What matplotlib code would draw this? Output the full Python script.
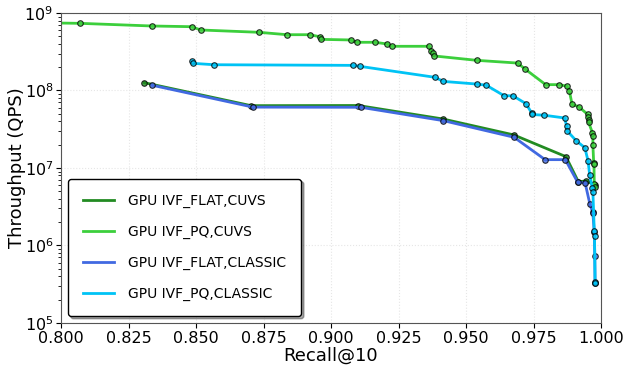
import numpy as np
import matplotlib
matplotlib.use("Agg")
import matplotlib.pyplot as plt

# IVF_FLAT, cuVS
flat_cuvs_recall = [0.8309, 0.8704, 0.9101, 0.9414, 0.9677, 0.9870, 0.9916, 0.9946, 0.9978]
flat_cuvs_qps = [1.26e8, 6.37e7, 6.4e7, 4.29e7, 2.67e7, 1.4e7, 6.65e6, 6.8e6, 6.0e6]

# IVF_PQ, cuVS
pq_cuvs_recall = [0.790, 0.8070, 0.8337, 0.8484, 0.8517, 0.8732, 0.8837, 0.8921, 0.8959, 0.8962,
                  0.9074, 0.9095, 0.9163, 0.9209, 0.9226, 0.9363, 0.9370, 0.9379, 0.9383,
                  0.9540, 0.9691, 0.9719, 0.9795, 0.9843, 0.9873, 0.9883, 0.9893, 0.9917,
                  0.9951, 0.9953, 0.9954, 0.9954, 0.9968, 0.9970, 0.9970, 0.9973, 0.9974,
                  0.9975, 0.9976]
pq_cuvs_qps = [7.5e8, 7.36e8, 6.8e8, 6.66e8, 6.04e8, 5.64e8, 5.25e8, 5.25e8, 4.94e8, 4.57e8,
               4.49e8, 4.19e8, 4.19e8, 3.98e8, 3.72e8, 3.72e8, 3.27e8, 3.02e8, 2.79e8,
               2.45e8, 2.26e8, 1.89e8, 1.19e8, 1.19e8, 1.14e8, 9.8e7, 6.6e7, 6.2e7,
               4.9e7, 4.5e7, 4.2e7, 3.9e7, 2.86e7, 2.6e7, 1.96e7, 1.15e7, 1.12e7,
               6.3e6, 5.7e6]

# IVF_FLAT, classic
flat_classic_recall = [0.8337, 0.8711, 0.9110, 0.9416, 0.9678, 0.9793, 0.9868, 0.9914,
                       0.9941, 0.9959, 0.9969, 0.9970, 0.9975, 0.9977, 0.9978]
flat_classic_qps = [1.17e8, 6.1e7, 6.07e7, 4.08e7, 2.49e7, 1.28e7, 1.28e7, 6.5e6,
                    6.46e6, 3.4e6, 2.69e6, 2.6e6, 1.5e6, 7.2e5, 3.3e5]

# IVF_PQ, classic
pq_classic_recall = [0.8486, 0.8489, 0.8568, 0.9083, 0.9107, 0.9385, 0.9416, 0.9541, 0.9575,
                     0.9640, 0.9675, 0.9722, 0.9744, 0.9745, 0.9790, 0.9865, 0.9873, 0.9874,
                     0.9909, 0.9940, 0.9952, 0.9958, 0.9968, 0.9970, 0.9975, 0.9976, 0.9978,
                     0.9978]
pq_classic_qps = [2.41e8, 2.24e8, 2.15e8, 2.11e8, 2.05e8, 1.48e8, 1.31e8, 1.21e8, 1.17e8,
                  8.6e7, 8.5e7, 6.76e7, 5.08e7, 4.9e7, 4.79e7, 4.42e7, 3.45e7, 3.03e7,
                  2.23e7, 1.83e7, 1.24e7, 8.1e6, 5.5e6, 4.9e6, 1.55e6, 1.32e6, 3.4e5,
                  3.25e5]

series = [
    ("GPU IVF_FLAT,CUVS", flat_cuvs_recall, flat_cuvs_qps, "#228B22"),
    ("GPU IVF_PQ,CUVS", pq_cuvs_recall, pq_cuvs_qps, "#3ccf3c"),
    ("GPU IVF_FLAT,CLASSIC", flat_classic_recall, flat_classic_qps, "#4169E1"),
    ("GPU IVF_PQ,CLASSIC", pq_classic_recall, pq_classic_qps, "#00C3F5"),
]

fig = plt.figure(figsize=(6.25, 3.72), dpi=100)
ax = fig.add_axes([0.0976, 0.132, 0.864, 0.833])

for label, r, q, c in series:
    ax.plot(r, q, '-', color=c, linewidth=2, label=label)
    ax.plot(r, q, 'o', color=c, markersize=4, markeredgecolor='black',
            markeredgewidth=0.8, alpha=0.8)

ax.set_yscale('log')
ax.set_xlim(0.8, 1.0)
ax.set_ylim(1e5, 1e9)
ax.set_xticks(np.arange(0.8, 1.0001, 0.025))
ax.set_xticklabels([f"{v:.3f}" for v in np.arange(0.8, 1.0001, 0.025)])
ax.tick_params(labelsize=11.5, pad=2)
ax.grid(True, which='major', color='#e6e6e6', linewidth=0.8, linestyle=':')
ax.set_xlabel('Recall@10', fontsize=13, labelpad=1)
ax.set_ylabel('Throughput (QPS)', fontsize=13, labelpad=-1)
for s in ax.spines.values():
    s.set_color('#555555')

leg = ax.legend(loc='lower left', bbox_to_anchor=(0.0, 0.0), fontsize=10,
                frameon=True, shadow=True, fancybox=True, borderpad=1.1,
                labelspacing=1.2, handlelength=2.2, handletextpad=1.0)
leg.get_frame().set_edgecolor('black')
leg.get_frame().set_linewidth(1.0)
leg.get_frame().set_alpha(1.0)

fig.savefig('out.png', dpi=100)
